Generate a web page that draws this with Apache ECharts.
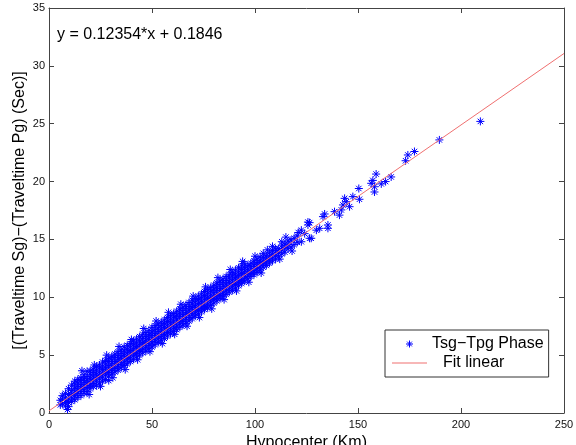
<!DOCTYPE html>
<html>
<head>
<meta charset="utf-8">
<script src="https://cdn.jsdelivr.net/npm/echarts@6/dist/echarts.min.js"></script>
<style>html,body{margin:0;padding:0;background:#fff}#c{width:576px;height:445px}</style>
</head>
<body>
<div id="c"></div>
<script>
// Axis ticks
var xTicks = [0, 50, 100, 150, 200, 250];
var yTicks = [0, 5, 10, 15, 20, 25, 30, 35];
// Fit line endpoints (y = 0.12354*x + 0.1846)
var fitX = [0, 250];
var fitY = [0.1846, 31.0696];
var equationText = 'y = 0.12354*x + 0.1846';
var phasePoints = [
[5.5,0.7],[5.5,1.1],
[6.5,0.8],[6.5,1.2],[6.5,1.5],
[8,0.9],[8,1.3],[8,1.7],[8,0.6],
[9.5,0.55],[9.5,0.9],[9.5,1.2],[9.5,1.6],[9.5,2.1],
[11,1.0],[11,1.3],[11,1.6],[11,1.95],[11,2.4],
[12.5,1.15],[12.5,1.5],[12.5,1.8],[12.5,2.15],[12.5,2.5],[12.5,2.75],
[14,1.35],[14,1.7],[14,2.0],[14,2.3],[14,2.6],[14,2.9],
[15.5,1.5],[15.5,1.85],[15.5,2.15],[15.5,2.45],[15.5,2.8],[15.5,3.05],
[17,1.7],[17,2.0],[17,2.35],[17,2.65],[17,2.95],[17,3.3],
[18.5,1.85],[18.5,2.2],[18.5,2.5],[18.5,2.85],[18.5,3.15],[18.5,3.6],
[20,2.1],[20,2.4],[20,2.7],[20,3.0],[20,3.35],[20,3.65],
[21.5,2.3],[21.5,2.55],[21.5,2.9],[21.5,3.2],[21.5,3.5],[21.5,3.8],
[23,2.35],[23,2.75],[23,3.05],[23,3.35],[23,3.7],[23,4.0],
[24.5,2.6],[24.5,2.95],[24.5,3.25],[24.5,3.55],[24.5,3.9],[24.5,4.15],
[26,2.75],[26,3.1],[26,3.4],[26,3.75],[26,4.05],[26,4.4],
[27.5,2.9],[27.5,3.3],[27.5,3.6],[27.5,3.9],[27.5,4.25],[27.5,4.55],
[29,2.8],[29,3.2],[29,3.5],[29,3.8],[29,4.1],[29,4.45],[29,4.75],
[30.5,3.35],[30.5,3.65],[30.5,3.95],[30.5,4.3],[30.5,4.6],[30.5,4.9],
[32,3.55],[32,3.85],[32,4.15],[32,4.45],[32,4.8],[32,5.1],
[33.5,3.7],[33.5,4.05],[33.5,4.35],[33.5,4.65],[33.5,4.95],[33.5,5.3],
[35,3.9],[35,4.2],[35,4.5],[35,4.85],[35,5.15],[35,5.45],
[36.5,4.1],[36.5,4.4],[36.5,4.7],[36.5,5.0],[36.5,5.35],[36.5,5.7],
[38,4.25],[38,4.6],[38,4.9],[38,5.2],[38,5.5],[38,5.85],
[39.5,4.45],[39.5,4.75],[39.5,5.1],[39.5,5.4],[39.5,5.7],[39.5,6.0],
[41,4.65],[41,4.95],[41,5.25],[41,5.55],[41,5.9],[41,6.2],
[42.5,4.85],[42.5,5.15],[42.5,5.45],[42.5,5.75],[42.5,6.05],[42.5,6.4],
[44,5.0],[44,5.3],[44,5.6],[44,5.95],[44,6.25],[44,6.6],
[45.5,5.2],[45.5,5.5],[45.5,5.8],[45.5,6.1],[45.5,6.45],[45.5,6.8],
[47,5.35],[47,5.7],[47,6.0],[47,6.3],[47,6.6],[47,6.95],
[48.5,5.55],[48.5,5.85],[48.5,6.2],[48.5,6.5],[48.5,6.8],[48.5,7.15],
[50,5.7],[50,6.05],[50,6.35],[50,6.7],[50,7.0],[50,7.4],
[51.5,5.9],[51.5,6.2],[51.5,6.55],[51.5,6.85],[51.5,7.2],[51.5,7.55],
[53,6.1],[53,6.4],[53,6.75],[53,7.05],[53,7.35],[53,7.7],
[54.5,6.3],[54.5,6.6],[54.5,6.9],[54.5,7.25],[54.5,7.55],[54.5,7.85],
[56,6.45],[56,6.8],[56,7.1],[56,7.4],[56,7.75],[56,8.05],
[57.5,6.65],[57.5,6.95],[57.5,7.3],[57.5,7.6],[57.5,7.9],[57.5,8.25],
[59,6.85],[59,7.15],[59,7.45],[59,7.8],[59,8.1],[59,8.4],
[60.5,7.05],[60.5,7.35],[60.5,7.65],[60.5,7.95],[60.5,8.3],[60.5,8.6],
[62,7.2],[62,7.5],[62,7.85],[62,8.15],[62,8.45],[62,8.8],
[63.5,7.4],[63.5,7.7],[63.5,8.0],[63.5,8.35],[63.5,8.65],[63.5,9.0],
[65,7.6],[65,7.9],[65,8.2],[65,8.5],[65,8.85],[65,9.15],
[66.5,7.75],[66.5,8.1],[66.5,8.4],[66.5,8.7],[66.5,9.05],[66.5,9.35],
[68,7.95],[68,8.25],[68,8.6],[68,8.9],[68,9.2],[68,9.55],
[69.5,8.15],[69.5,8.45],[69.5,8.75],[69.5,9.1],[69.5,9.4],[69.5,9.75],
[71,8.4],[71,8.65],[71,8.95],[71,9.25],[71,9.6],[71,9.9],
[72.5,8.55],[72.5,8.85],[72.5,9.15],[72.5,9.45],[72.5,9.8],[72.5,10.1],
[74,8.75],[74,9.05],[74,9.35],[74,9.65],[74,9.95],[74,10.3],
[75.5,8.95],[75.5,9.2],[75.5,9.5],[75.5,9.85],[75.5,10.15],[75.5,10.5],
[77,9.1],[77,9.4],[77,9.7],[77,10.0],[77,10.35],[77,10.65],
[78.5,9.3],[78.5,9.6],[78.5,9.9],[78.5,10.2],[78.5,10.55],[78.5,10.85],
[80,9.5],[80,9.8],[80,10.05],[80,10.4],[80,10.7],[80,11.05],
[81.5,9.7],[81.5,9.95],[81.5,10.25],[81.5,10.6],[81.5,10.9],[81.5,11.25],
[83,9.9],[83,10.15],[83,10.45],[83,10.75],[83,11.1],[83,11.4],
[84.5,10.05],[84.5,10.35],[84.5,10.65],[84.5,10.95],[84.5,11.3],[84.5,11.6],
[86,10.25],[86,10.55],[86,10.8],[86,11.15],[86,11.45],[86,11.8],
[87.5,10.45],[87.5,10.7],[87.5,11.0],[87.5,11.3],[87.5,11.65],[87.5,11.95],
[89,10.6],[89,10.9],[89,11.2],[89,11.5],[89,11.85],[89,12.15],
[90.5,10.8],[90.5,11.1],[90.5,11.4],[90.5,11.7],[90.5,12.0],[90.5,12.35],
[92,11.0],[92,11.3],[92,11.55],[92,11.9],[92,12.2],[92,12.55],
[93.5,11.2],[93.5,11.45],[93.5,11.75],[93.5,12.05],[93.5,12.4],[93.5,12.7],
[95,11.4],[95,11.65],[95,11.95],[95,12.25],[95,12.55],[95,12.9],
[96.5,11.6],[96.5,11.85],[96.5,12.1],[96.5,12.45],[96.5,12.75],
[98,11.8],[98,12.05],[98,12.3],[98,12.65],[98,12.95],
[99.5,11.95],[99.5,12.25],[99.5,12.5],[99.5,12.8],[99.5,13.15],
[101,12.15],[101,12.45],[101,12.7],[101,13.0],[101,13.3],
[102.5,12.35],[102.5,12.6],[102.5,12.9],[102.5,13.2],[102.5,13.5],
[104,12.6],[104,12.85],[104,13.1],[104,13.45],[104,13.8],
[105.5,12.75],[105.5,13.05],[105.5,13.3],[105.5,13.6],
[107,12.95],[107,13.2],[107,13.5],[107,13.85],
[108.5,13.15],[108.5,13.4],[108.5,13.7],[108.5,14.05],[108.5,14.4],
[110,13.3],[110,13.6],[110,13.9],[110,14.2],
[111.5,13.5],[111.5,13.85],[111.5,14.2],
[113,13.75],[113,14.1],[113,14.5],[113,14.8],
[114.5,13.9],[114.5,14.3],[114.5,14.6],
[116,14.2],[116,14.55],[116,14.85],
[117.5,14.35],[117.5,14.95],
[119,14.55],[119,15.1],
[120.5,14.75],[120.5,15.3],
[122.5,15.8],[122.5,14.8],[124.1,15.5],[125.7,16.25],[125.7,16.5],[126.5,16.45],
[126.5,15.1],[127.3,15.1],[129.8,15.8],[131.4,15.96],[133,16.97],[133.8,17.2],
[135.4,16.25],[135.4,15.96],[138.6,17.4],[141,17.1],[141.9,17.55],[142.7,17.98],
[143.5,18.55],[144.3,18.26],[145.9,17.83],[147.5,18.7],[150.4,19.4],[150.7,18.47],
[156.4,19.85],[157.2,20.1],[158,19.1],[158,19.55],[158.8,20.65],[161.3,19.8],
[163.4,20.0],[166.1,20.4],[173.1,21.8],[174.2,22.3],[177.4,22.6],[189.5,23.6],
[209.4,25.2],
// ragged edges of the dense band
[9,0.3],[16,3.65],[19.5,1.6],[22,4.15],[25,2.3],[28,5.0],[31,3.05],[34,5.75],
[37,3.75],[40,6.35],[43,4.6],[46,7.3],[49,5.3],[52,7.95],[55,6.0],[58,8.7],
[61,6.8],[64,9.4],[67,7.5],[70,10.1],[73,8.25],[76,10.9],[79,9.0],[82,11.7],
[85,9.8],[88,12.4],[91,10.55],[94,13.1],[97,11.3],[100,13.55],[103,12.1],[106,14.1],
[112,13.3],[115,15.2],[118,14.0],[121,15.6]
];

var star = 'path://M5,0L5,10M0,5L10,5M1.6,1.6L8.4,8.4M1.6,8.4L8.4,1.6';
var lineIcon = 'path://M0,3L35,3L35,4L0,4Z';
var FONT = 'Liberation Sans, Arial, sans-serif';
var chart = echarts.init(document.getElementById('c'), null, {renderer: 'canvas'});
var axisLineStyle = {color: '#444', width: 1};
function xAxisCfg(pos, show) {
  return {
    type: 'value', position: pos, min: xTicks[0], max: xTicks[xTicks.length - 1], interval: 50,
    axisLine: {show: true, onZero: false, lineStyle: axisLineStyle},
    axisTick: {show: true, inside: true, length: 5, lineStyle: {color: '#444'}},
    axisLabel: {show: show, margin: 6, color: '#111', fontSize: 11, fontFamily: FONT},
    splitLine: {show: false},
    name: show ? 'Hypocenter (Km)' : '', nameLocation: 'middle', nameGap: 17,
    nameTextStyle: {color: '#000', fontSize: 16, fontFamily: FONT}
  };
}
function yAxisCfg(pos, show) {
  return {
    type: 'value', position: pos, min: yTicks[0], max: yTicks[yTicks.length - 1], interval: 5,
    axisLine: {show: true, onZero: false, lineStyle: axisLineStyle},
    axisTick: {show: true, inside: true, length: 5, lineStyle: {color: '#444'}},
    axisLabel: {show: show, margin: 4, color: '#111', fontSize: 11, fontFamily: FONT},
    splitLine: {show: false},
    name: show ? '[(Traveltime Sg)\u2212(Traveltime Pg) (Sec)]' : '', nameLocation: 'middle', nameGap: 21,
    nameMoveOverlap: false,
    nameTextStyle: {color: '#000', fontSize: 16, fontFamily: FONT}
  };
}
var option = {
  backgroundColor: '#fff',
  animation: false,
  grid: {left: 49, right: 12, top: 8, bottom: 32, containLabel: false, outerBoundsMode: 'none'},
  xAxis: [xAxisCfg('bottom', true), xAxisCfg('top', false)],
  yAxis: [yAxisCfg('left', true), yAxisCfg('right', false)],
  legend: {
    orient: 'vertical', left: 385, top: 330,
    backgroundColor: '#fff', borderColor: '#333', borderWidth: 1, borderRadius: 0,
    padding: [6, 5, 6, 7], itemGap: 3, itemWidth: 35, itemHeight: 7,
    textStyle: {color: '#000', fontSize: 16, fontFamily: FONT,
      rich: {p: {fontSize: 16, fontFamily: FONT, color: '#000', padding: [0, 0, 0, 11]}}},
    formatter: function (n) { return n === 'Fit linear' ? '{p|Fit linear}' : n; },
    data: [
      {name: 'Tsg\u2212Tpg Phase', icon: star,
       itemStyle: {color: 'rgba(0,0,0,0)', borderColor: '#0000ff', borderWidth: 1}},
      {name: 'Fit linear', icon: lineIcon,
       itemStyle: {color: '#f07070', borderWidth: 0}}
    ]
  },
  graphic: [{
    type: 'text', left: 57, top: 27,
    style: {text: equationText, fill: '#000', font: '16px ' + FONT}
  }],
  series: [
    {
      name: 'Tsg\u2212Tpg Phase', type: 'scatter', xAxisIndex: 0, yAxisIndex: 0,
      symbol: star, symbolSize: 8,
      itemStyle: {color: 'rgba(0,0,0,0)', borderColor: '#0000ff', borderWidth: 1, opacity: 1},
      data: phasePoints, z: 2
    },
    {
      name: 'Fit linear', type: 'line', xAxisIndex: 0, yAxisIndex: 0,
      symbol: 'none', showSymbol: false,
      lineStyle: {color: '#f07070', width: 1},
      itemStyle: {color: '#f07070'},
      data: fitX.map(function (x, i) { return [x, fitY[i]]; }), z: 3
    }
  ]
};
chart.setOption(option);
</script>
</body>
</html>
